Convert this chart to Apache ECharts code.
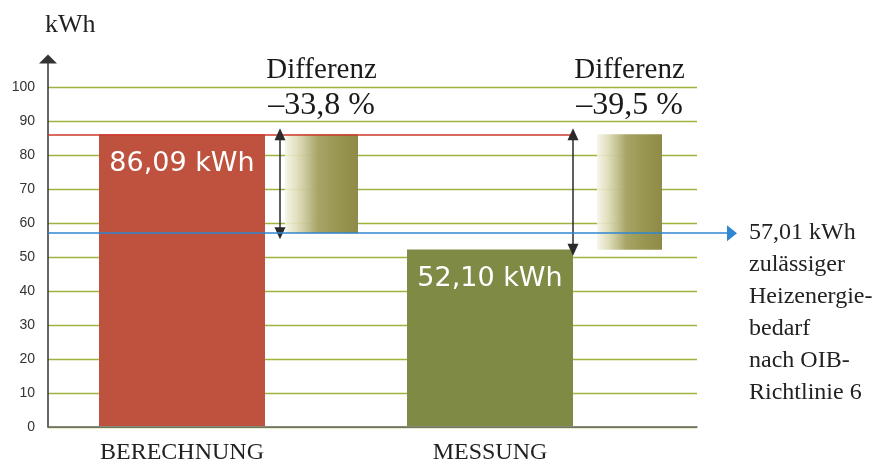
<!DOCTYPE html>
<html>
<head>
<meta charset="utf-8">
<script src="https://cdn.jsdelivr.net/npm/echarts@6/dist/echarts.min.js"></script>
<style>
html,body{margin:0;padding:0;background:#fff;}
#chart{width:887px;height:465px;}
</style>
</head>
<body>
<div id="chart"></div>
<script>
// ---- data ----
const categories = ['BERECHNUNG', 'MESSUNG'];
const energyValues = [86.09, 52.10];          // kWh
const allowedValue = 57.01;                   // kWh, zulässiger Heizenergiebedarf
const unitLabel = 'kWh';
const diffTitle = 'Differenz';
const noteLines = ['zulässiger', 'Heizenergie-', 'bedarf', 'nach OIB-', 'Richtlinie 6'];
const yMin = 0, yMax = 100, yStep = 10;

// ---- helpers ----
const de = (v, d) => v.toFixed(d).replace('.', ',');
const calc = energyValues[0], meas = energyValues[1];
const diffLow = [allowedValue, meas];               // lower ends of difference boxes
const diffSize = [calc - allowedValue, calc - meas];  // heights of difference boxes
const diffPct = diffLow.map(v => (v - calc) / calc * 100);
const pctText = p => (p < 0 ? '\u2013' : '') + de(Math.abs(p), 1) + ' %';

const serif = '"Liberation Serif", "Times New Roman", serif';
const gridTop = 87, gridBottom = 38;
const gridColor = '#a3b23c';
const grad = new echarts.graphic.LinearGradient(0, 0, 1, 0, [
  {offset: 0, color: 'rgba(246,245,232,0.9)'},
  {offset: 0.18, color: 'rgba(220,218,180,0.93)'},
  {offset: 0.45, color: '#a7a467'},
  {offset: 0.75, color: '#979550'},
  {offset: 1, color: '#8d8b47'}
]);

function yAx(gridIndex, extra) {
  return Object.assign({type: 'value', gridIndex, min: yMin, max: yMax, interval: yStep, show: false}, extra || {});
}
function xCat(gridIndex, extra) {
  return Object.assign({type: 'category', gridIndex, data: categories, show: false}, extra || {});
}

const option = {
  animation: false,
  backgroundColor: '#fff',
  grid: [
    {left: 48, right: 190, top: gridTop, bottom: gridBottom},   // 0 main grid lines
    {left: 48, right: 190, top: 59, bottom: gridBottom},        // 1 y axis with arrow
    {left: 28, right: 243, top: gridTop, bottom: gridBottom},   // 2 bars
    {left: 161.5, right: 101.5, top: gridTop, bottom: gridBottom}, // 3 difference boxes
    {left: 133.5, right: 167.5, top: gridTop, bottom: gridBottom}, // 4 difference arrows
    {left: 48, right: 314, top: gridTop, bottom: gridBottom},   // 5 red reference line
    {left: 48, right: 155, top: gridTop, bottom: gridBottom}    // 6 blue limit line
  ],
  xAxis: [
    xCat(0, {show: true, axisLine: {show: true, lineStyle: {color: '#666', width: 1.5}}, axisTick: {show: false}, axisLabel: {show: false}, splitLine: {show: false}}),
    xCat(1),
    xCat(2, {show: true, axisLine: {show: false}, axisTick: {show: false}, splitLine: {show: false},
      axisLabel: {show: true, margin: 15, fontFamily: serif, fontSize: 24, color: '#222'}}),
    xCat(3),
    xCat(4),
    {type: 'value', gridIndex: 5, min: 0, max: 1, show: false},
    {type: 'value', gridIndex: 6, min: 0, max: 1, show: false}
  ],
  yAxis: [
    yAx(0, {show: true, axisLine: {show: false}, axisTick: {show: false},
      axisLabel: {margin: 13, fontFamily: '"Liberation Sans", Arial, sans-serif', fontSize: 14, color: '#333'},
      splitLine: {show: true, lineStyle: {color: [gridColor], width: 1.3, opacity: 1, type: 'solid'}}}),
    {type: 'value', gridIndex: 1, min: 0, max: 1, show: true,
      name: unitLabel, nameLocation: 'end', nameGap: 21,
      nameTextStyle: {fontFamily: serif, fontSize: 26, color: '#222', align: 'left', padding: [0, 0, 0, -3]},
      axisLine: {show: true, symbol: ['none', 'triangle'], symbolSize: [18, 9], lineStyle: {color: '#333', width: 1.5}},
      axisTick: {show: false}, axisLabel: {show: false}, splitLine: {show: false}},
    yAx(2), yAx(3), yAx(4), yAx(5), yAx(6)
  ],
  series: [
    {
      type: 'bar', xAxisIndex: 2, yAxisIndex: 2, barWidth: 166,
      data: energyValues.map((v, i) => ({value: v, itemStyle: {color: i === 0 ? '#be523e' : '#7f8b45'}})),
      label: {show: true, position: 'insideTop', distance: 16, color: '#fff',
        fontFamily: '"DejaVu Sans", sans-serif', fontSize: 27,
        formatter: p => de(p.value, 2) + ' ' + unitLabel}
    },
    // difference box 1
    {type: 'bar', xAxisIndex: 3, yAxisIndex: 3, stack: 'd1', barWidth: 73, barGap: '-100%',
      itemStyle: {color: 'transparent'}, data: [diffLow[0], '-'], silent: true},
    {type: 'bar', xAxisIndex: 3, yAxisIndex: 3, stack: 'd1', barWidth: 73, barGap: '-100%',
      itemStyle: {color: grad}, data: [diffSize[0], '-'],
      label: {show: true, position: 'top', distance: 12, color: '#1a1a1a',
        formatter: () => '{a|' + diffTitle + '}\n{b|' + pctText(diffPct[0]) + '}',
        rich: {a: {fontFamily: serif, fontSize: 29, lineHeight: 36, color: '#1a1a1a'},
               b: {fontFamily: serif, fontSize: 32, lineHeight: 34, color: '#1a1a1a'}}}},
    // difference box 2
    {type: 'bar', xAxisIndex: 3, yAxisIndex: 3, stack: 'd2', barWidth: 65, barGap: '-100%',
      itemStyle: {color: 'transparent'}, data: ['-', diffLow[1]], silent: true},
    {type: 'bar', xAxisIndex: 3, yAxisIndex: 3, stack: 'd2', barWidth: 65, barGap: '-100%',
      itemStyle: {color: grad}, data: ['-', diffSize[1]],
      label: {show: true, position: 'top', distance: 12, color: '#1a1a1a',
        formatter: () => '{a|' + diffTitle + '}\n{b|' + pctText(diffPct[1]) + '}',
        rich: {a: {fontFamily: serif, fontSize: 29, lineHeight: 36, color: '#1a1a1a'},
               b: {fontFamily: serif, fontSize: 32, lineHeight: 34, color: '#1a1a1a'}}}},
    // red reference line at calculated value
    {type: 'line', xAxisIndex: 5, yAxisIndex: 5, data: [], silent: true,
      markLine: {silent: true, symbol: ['none', 'none'], label: {show: false},
        lineStyle: {color: '#cc3a2c', width: 1.5, type: 'solid'},
        data: [{yAxis: calc}]}},
    // difference arrows
    {type: 'line', xAxisIndex: 4, yAxisIndex: 4, data: [], silent: true, z: 5,
      markLine: {silent: true, symbol: ['triangle', 'triangle'], symbolSize: [11, 12], label: {show: false},
        lineStyle: {color: '#2a2a2a', width: 1.5, type: 'solid'},
        data: [
          [{coord: [categories[0], calc]}, {coord: [categories[0], diffLow[0]]}],
          [{coord: [categories[1], calc]}, {coord: [categories[1], diffLow[1]]}]
        ]}},
    // blue allowed-value line with note
    {type: 'line', xAxisIndex: 6, yAxisIndex: 6, data: [], silent: true, z: 4,
      markLine: {silent: true, symbol: ['none', 'triangle'], symbolSize: [16, 10],
        lineStyle: {color: '#2f86d1', width: 1.5, type: 'solid'},
        label: {show: true, position: 'end', distance: 17, color: '#222',
          fontFamily: serif, fontSize: 24, lineHeight: 32,
          formatter: () => '\n\n\n\n\n' + [de(allowedValue, 2) + ' ' + unitLabel].concat(noteLines).join('\n')},
        data: [{yAxis: allowedValue}]}}
  ]
};

const chart = echarts.init(document.getElementById('chart'), null, {renderer: 'canvas'});
chart.setOption(option);
</script>
</body>
</html>
